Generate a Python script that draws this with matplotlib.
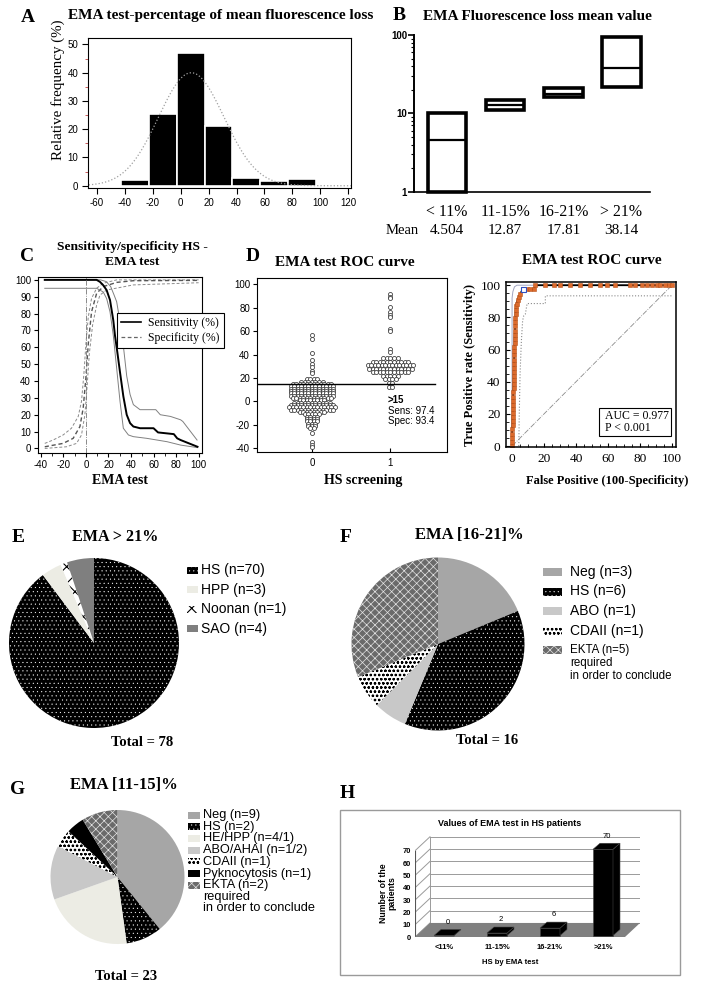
import matplotlib
matplotlib.use('Agg')
import matplotlib.pyplot as plt
import numpy as np
from matplotlib.patches import Rectangle, Polygon
from matplotlib.lines import Line2D
from matplotlib.ticker import MultipleLocator, LogLocator, NullFormatter, FixedLocator
from matplotlib import transforms

plt.rcParams['font.family'] = ['Liberation Sans', 'DejaVu Sans']
plt.rcParams['hatch.linewidth'] = 0.6
plt.rcParams['axes.unicode_minus'] = False
SERIF = 'Liberation Serif'
W, H = 704, 985

# ---------------- data ----------------
# A: histogram of EMA fluorescence loss
hist_left = [-43, -23, -3, 17, 37, 57, 77]
hist_freq = [2.0, 25.5, 47.0, 21.0, 2.8, 1.8, 2.4]
hist_width = 20
fit_mean, fit_sd, fit_peak = 7.5, 23.5, 40.0

# B: fluorescence loss ranges per group
b_groups = ['< 11%', '11-15%', '16-21%', '> 21%']
b_low = [1, 11, 16, 21.5]
b_high = [10, 15, 21, 95]
b_mean = ['4.504', '12.87', '17.81', '38.14']

# C: sensitivity / specificity curves
sens_x = [-36.5, 9.5, 12.5, 15.4, 18.4, 21.4, 24.3, 25.8, 27.9, 30.3, 33.2, 36.2, 39.2, 42.1, 48, 60, 64, 78, 81, 84, 99]
sens_y = [100, 100, 98.8, 96.8, 93.9, 88, 76, 67, 57, 45, 31, 20, 15, 13, 12, 12, 9.5, 8.5, 6, 5, 1]
sens_up_x = [-36.5, 13, 18, 22, 25, 27.3, 30.3, 33.2, 36.2, 39.2, 42.1, 48, 62, 66, 75, 84, 86, 98.6]
sens_up_y = [100, 100, 99, 96, 91, 87, 75, 61, 43, 32, 26, 23, 23, 20, 19, 17, 16, 5]
sens_lo_x = [-36.5, 9.5, 15.4, 18.4, 21.4, 24.3, 27.3, 30.3, 33.2, 37.7, 42.1, 54, 72, 84, 99]
sens_lo_y = [95, 95, 92.8, 88.9, 81, 67, 47.5, 27.7, 12, 8, 7, 6, 4, 2, 0.5]
spec_x = [-36.5, -20.2, -11.3, -5.3, -2.4, 0, 2.1, 5, 9.5, 15.4, 27.3, 42.1, 100]
spec_y = [1, 3, 6, 13, 24, 42, 62, 81, 92, 96, 98.5, 99.5, 99.7]
spec_up_x = [-36.5, -29.1, -20.2, -12.8, -6.8, -3.9, -1.8, 0, 2.1, 5, 9.5, 15.4, 27.3, 100]
spec_up_y = [3, 5, 8, 12, 19, 28, 44, 62, 78, 89, 95, 98, 100, 100]
spec_lo_x = [-36.5, -17.2, -8.3, -3.9, -0.9, 1.2, 3, 5.9, 9.5, 12.5, 18.4, 30.3, 42, 100]
spec_lo_y = [0, 1, 3, 8, 20, 38, 56, 73, 85, 91, 94, 95.5, 97, 98.3]

# D: dot plot of EMA values by HS screening (value, number of patients)
g0_vals = [57, 53, 41, 35, 32, 29, 26, 24, 19, 17, 15, 13, 11, 9, 7, 5, 3, 1,
           -1, -3, -5, -7, -9, -11, -13, -15, -17, -19, -21, -23, -27, -35, -37, -39]
g0_counts = [1, 1, 1, 1, 1, 1, 1, 1, 4, 7, 12, 13, 13, 13, 13, 13, 12, 8,
             11, 13, 14, 13, 8, 5, 4, 4, 4, 3, 3, 2, 1, 1, 1, 1]
g1_vals = [92, 89, 88, 81, 76, 74, 72, 62, 60, 45, 42, 37, 34, 31, 28, 25, 22, 19, 16, 12]
g1_counts = [1, 1, 1, 1, 1, 1, 1, 1, 1, 1, 1, 5, 11, 14, 13, 11, 5, 4, 2, 2]
cutoff = 15
sens_cut, spec_cut = 97.4, 93.4

# D: ROC curve
roc_fpr = [0, 0, 0, 0, 0, 0.3, 0.3, 0.3, 0.5, 0.5, 0.5, 0.7, 0.7, 0.7, 0.9, 0.9, 1.0, 1.0, 1.0,
           1.2, 1.2, 1.2, 1.4, 1.4, 1.4, 1.6, 1.6, 1.7, 1.8, 1.9, 2.0, 2.1, 2.2, 2.3, 2.5, 2.8,
           3.5, 4.2, 5.2, 6.6, 9.4, 11.5, 13.5, 14.6, 20.8, 26, 30, 36, 42.7, 49, 55, 59.4,
           64.6, 74, 77, 81, 84.4, 87.5, 90.6, 92.7, 95.8, 97.9, 100]
roc_tpr = [0, 2.6, 5.1, 7.7, 10.3, 12.8, 15.4, 17.9, 20.5, 23.1, 25.6, 28.2, 30.8, 33.3, 35.9,
           38.5, 41.0, 43.6, 46.2, 48.7, 51.3, 53.8, 56.4, 59.0, 61.5, 64.1, 66.7, 69.2, 71.8,
           74.4, 76.9, 79.5, 82.1, 84.6, 87.2, 88.5, 90.7, 92.7, 94.8, 97.4, 97.4, 97.4, 97.4,
           100, 100, 100, 100, 100, 100, 100, 100, 100, 100, 100, 100, 100, 100, 100, 100,
           100, 100, 100, 100]
roc_up_x = [0, 0, 0.5, 1.5, 3, 100]
roc_up_y = [0, 92, 96, 99, 100, 100]
roc_lo_x = [4.2, 4.5, 5, 5.8, 6.6, 7.3, 8.3, 9.4, 20.8, 20.8, 100]
roc_lo_y = [0, 20, 45, 65, 78, 81, 82, 88.6, 88.6, 93.4, 93.4]
auc_text = 'AUC = 0.977\nP < 0.001'

# E, F, G: diagnoses per EMA range
e_names = ['HS', 'HPP', 'Noonan', 'SAO']
e_counts = [70, 3, 1, 4]
e_labels = ['HS (n=70)', 'HPP (n=3)', 'Noonan (n=1)', 'SAO (n=4)']
f_names = ['Neg', 'HS', 'ABO', 'CDAII', 'EKTA']
f_counts = [3, 6, 1, 1, 5]
f_labels = ['Neg (n=3)', 'HS (n=6)', 'ABO (n=1)', 'CDAII (n=1)',
            'EKTA (n=5)\nrequired\nin order to conclude']
g_names = ['Neg', 'HS', 'HE/HPP', 'ABO/AHAI', 'CDAII', 'Pyknocytosis', 'EKTA']
g_counts = [9, 2, 5, 3, 1, 1, 2]
g_labels = ['Neg (n=9)', 'HS (n=2)', 'HE/HPP (n=4/1)', 'ABO/AHAI (n=1/2)', 'CDAII (n=1)',
            'Pyknocytosis (n=1)', 'EKTA (n=2)\nrequired\nin order to conclude']

# H: HS patients per EMA range
h_cats = ['<11%', '11-15%', '16-21%', '>21%']
h_counts = [0, 2, 6, 70]

STYLE = {
    'HS': dict(fc='black', hatch='....', hc='white', hlw=0.25),
    'HPP': dict(fc='#ececE4', hatch='', hc='none', hlw=0.6),
    'HE/HPP': dict(fc='#ececE4', hatch='', hc='none', hlw=0.6),
    'Noonan': dict(fc='white', hatch='xx', hc='black', hlw=0.8),
    'SAO': dict(fc='#7f7f7f', hatch='', hc='none', hlw=0.6),
    'Neg': dict(fc='#a6a6a6', hatch='', hc='none', hlw=0.6),
    'ABO': dict(fc='#c8c8c8', hatch='', hc='none', hlw=0.6),
    'ABO/AHAI': dict(fc='#c8c8c8', hatch='', hc='none', hlw=0.6),
    'CDAII': dict(fc='white', hatch='oooo', hc='black', hlw=0.6),
    'EKTA': dict(fc='#6a6a6a', hatch='xxxx', hc='#e4e4e4', hlw=0.5),
    'Pyknocytosis': dict(fc='black', hatch='', hc='none', hlw=0.6),
}

fig = plt.figure(figsize=(W / 100, H / 100), dpi=100)


def rect(l, t, r, b):
    return [l / W, 1 - b / H, (r - l) / W, (b - t) / H]


def ftext(x, y, s, **kw):
    kw.setdefault('ha', 'center')
    kw.setdefault('va', 'center')
    return fig.text(x / W, 1 - y / H, s, **kw)


def letter(x, y, s):
    ftext(x, y, s, family=SERIF, weight='bold', fontsize=14)


def style_patch(p, name):
    st = STYLE[name]
    if st['hatch']:
        p.set_edgecolor(st['hc'])
        p.set_hatch(st['hatch'])
        if hasattr(p, 'set_hatch_linewidth'):
            p.set_hatch_linewidth(st['hlw'])


# ---------------- A ----------------
ax = fig.add_axes(rect(88, 38, 351, 188))
ax.bar(hist_left, hist_freq, width=hist_width, align='edge', color='black',
       edgecolor='white', linewidth=1.2)
xs = np.linspace(-66, 122, 300)
ax.plot(xs, fit_peak * np.exp(-0.5 * ((xs - fit_mean) / fit_sd) ** 2),
        color='#a0a0a0', ls=':', lw=0.9)
ax.set_xlim(-66.5, 122)
ax.set_ylim(-0.8, 52.3)
ax.set_xticks(range(-60, 121, 20))
ax.set_yticks(range(0, 51, 10))
ax.yaxis.set_minor_locator(MultipleLocator(5))
ax.tick_params(labelsize=7, length=4, width=0.8, pad=3)
ax.tick_params(axis='y', which='minor', length=2, color='#c04040')
ax.set_ylabel('Relative frequency (%)', family=SERIF, fontsize=10.8)
ax.yaxis.set_label_coords(-0.087, 0.653)
letter(28, 17, 'A')
ftext(68, 16, 'EMA test-percentage of mean fluorescence loss', ha='left',
      family=SERIF, weight='bold', fontsize=11)

# ---------------- B ----------------
ax = fig.add_axes(rect(414, 35, 650, 191.7))
ax.set_yscale('log')
ax.set_ylim(1, 100)
ax.set_xlim(-0.567, 3.49)
for i, (lo, hi, m) in enumerate(zip(b_low, b_high, b_mean)):
    ax.add_patch(Rectangle((i - 0.33, lo), 0.66, hi - lo, fill=False, lw=2.6,
                           ec='black', clip_on=False, joinstyle='miter'))
    ax.plot([i - 0.33, i + 0.33], [float(m), float(m)], color='black', lw=1.6,
            solid_capstyle='butt')
for s in ['top', 'right']:
    ax.spines[s].set_visible(False)
ax.spines['left'].set_linewidth(1.4)
ax.spines['bottom'].set_linewidth(1.2)
ax.yaxis.set_major_locator(FixedLocator([1, 10, 100]))
ax.yaxis.set_major_formatter(matplotlib.ticker.FixedFormatter(['1', '10', '100']))
ax.yaxis.set_minor_locator(LogLocator(subs=np.arange(2, 10)))
ax.yaxis.set_minor_formatter(NullFormatter())
ax.tick_params(axis='y', labelsize=7, length=4, width=1.2, pad=1)
ax.tick_params(axis='y', which='minor', length=2, width=0.8)
for t in ax.get_yticklabels():
    t.set_fontweight('bold')
ax.set_xticks(range(len(b_groups)))
ax.set_xticklabels(b_groups, family=SERIF, fontsize=11.4)
ax.tick_params(axis='x', length=0, pad=9)
tr = transforms.blended_transform_factory(ax.transData, ax.transAxes)
ax.text(-0.77, -0.245, 'Mean', transform=tr, ha='center', va='center', family=SERIF,
        fontsize=10.5)
for i, m in enumerate(b_mean):
    ax.text(i, -0.245, m, transform=tr, ha='center', va='center', family=SERIF, fontsize=11)
letter(399, 16, 'B')
ftext(423, 16, 'EMA Fluorescence loss mean value', ha='left', family=SERIF,
      weight='bold', fontsize=11)

# ---------------- C ----------------
ax = fig.add_axes(rect(38, 277, 202, 453))
ax.plot(spec_up_x, spec_up_y, color='#8a8a8a', lw=0.7, dashes=(3, 2))
ax.plot(spec_lo_x, spec_lo_y, color='#8a8a8a', lw=0.7, dashes=(3, 2))
ax.plot(spec_x, spec_y, color='#555555', lw=1.0, dashes=(3, 2))
ax.plot(sens_up_x, sens_up_y, color='#808080', lw=0.7)
ax.plot(sens_lo_x, sens_lo_y, color='#808080', lw=0.7)
ax.plot(sens_x, sens_y, color='black', lw=1.4)
ax.axvline(0, color='#777777', lw=0.6, ls='-.')
ax.set_xlim(-42.5, 103)
ax.set_ylim(-2.7, 101.7)
ax.set_xticks(range(-40, 101, 20))
ax.set_yticks(range(0, 101, 10))
ax.xaxis.set_minor_locator(MultipleLocator(10))
ax.tick_params(labelsize=7, length=3, width=0.8, pad=2)
ax.tick_params(which='minor', length=2)
ax.set_xlabel('EMA test', family=SERIF, weight='bold', fontsize=10)
ax.xaxis.set_label_coords(0.5, -0.12)
handles = [Line2D([], [], color='black', lw=1.2),
           Line2D([], [], color='#666666', lw=0.9, dashes=(3, 2))]
leg = ax.legend(handles, ['Sensitivity (%)', 'Specificity (%)'], loc='upper left',
                bbox_to_anchor=(0.482, 0.795), prop=dict(family=SERIF, size=8.5),
                fancybox=False, framealpha=1, edgecolor='black', borderpad=0.35,
                handlelength=1.7, handletextpad=0.6, labelspacing=0.25, borderaxespad=0)
leg.get_frame().set_linewidth(0.8)
letter(27, 256, 'C')
ftext(132, 247, 'Sensitivity/specificity HS -', family=SERIF, weight='bold', fontsize=9.7)
ftext(132, 262, 'EMA test', family=SERIF, weight='bold', fontsize=9.7)

# ---------------- D left: dot plot ----------------
ax = fig.add_axes(rect(257, 278, 447, 452))
step = 0.045
for grp, (vals, cnts) in enumerate([(g0_vals, g0_counts), (g1_vals, g1_counts)]):
    px, py = [], []
    for v, n in zip(vals, cnts):
        for k in range(n):
            px.append(grp + (k - (n - 1) / 2) * step)
            py.append(v)
    ax.plot(px, py, ls='none', marker='o', ms=2.9, mfc='white', mec='#333333', mew=0.55)
ax.axhline(cutoff, xmin=0, xmax=0.937, color='black', lw=1.0)
ax.set_xlim(-0.70, 1.72)
ax.set_ylim(-43.2, 105.4)
ax.set_xticks([0, 1])
ax.set_yticks(range(-40, 101, 20))
ax.tick_params(labelsize=7, length=3, width=0.8, pad=2)
ax.tick_params(axis='x', direction='in', pad=4)
ax.set_xlabel('HS screening', family=SERIF, weight='bold', fontsize=10)
ax.xaxis.set_label_coords(0.56, -0.125)
ftext(388, 400, '>%d' % cutoff, ha='left', fontsize=7, weight='bold')
ftext(388, 410.5, 'Sens: %.1f' % sens_cut, ha='left', fontsize=7)
ftext(388, 420.5, 'Spec: %.1f' % spec_cut, ha='left', fontsize=7)
letter(253, 256, 'D')
ftext(345, 262, 'EMA test ROC curve', family=SERIF, weight='bold', fontsize=11)

# ---------------- D right: ROC ----------------
ax = fig.add_axes(rect(506, 282, 676, 447))
ax.plot([0, 100], [0, 100], color='#8a8a8a', lw=0.6, ls='-.')
ax.plot(roc_lo_x, roc_lo_y, color='#8a8a8a', lw=0.8, ls=':')
ax.plot(roc_up_x, roc_up_y, color='#a0a4c0', lw=0.7)
ax.plot(roc_fpr, roc_tpr, color='black', lw=1.3, marker='s', ms=3.4,
        mfc='#dd6a2c', mec='#b8531c', mew=0.4)
ax.plot([100 - spec_cut], [sens_cut], ls='none', marker='s', ms=3.6, mfc='white',
        mec='#3050c0', mew=0.8)
ax.set_xlim(-3.8, 102.5)
ax.set_ylim(-0.6, 102)
ax.set_xticks(range(0, 101, 20))
ax.set_yticks(range(0, 101, 20))
ax.xaxis.set_minor_locator(MultipleLocator(5))
ax.yaxis.set_minor_locator(MultipleLocator(5))
ax.tick_params(direction='in', length=3, width=0.8, labelsize=9.6, pad=4)
ax.tick_params(which='minor', direction='in', length=2)
for t in ax.get_xticklabels() + ax.get_yticklabels():
    t.set_fontfamily(SERIF)
for s in ax.spines.values():
    s.set_linewidth(1.1)
ax.set_ylabel('True Positive rate (Sensitivity)', family=SERIF, weight='bold', fontsize=9)
ax.yaxis.set_label_coords(-0.176, 0.5)
ax.set_xlabel('False Positive (100-Specificity)', family=SERIF, weight='bold', fontsize=9)
ax.xaxis.set_label_coords(0.594, -0.17)
ax.add_patch(Rectangle((0.547, 0.067), 0.423, 0.169, transform=ax.transAxes,
                       fill=False, ec='black', lw=0.8))
ax.text(0.582, 0.152, auc_text, transform=ax.transAxes, ha='left', va='center',
        family=SERIF, fontsize=8.5, linespacing=1.0)
ftext(592, 261, 'EMA test ROC curve', family=SERIF, weight='bold', fontsize=11)


# ---------------- E, F, G: pies ----------------
def draw_pie(box, names, counts):
    pax = fig.add_axes(rect(*box))
    wedges, _ = pax.pie(counts, startangle=90, counterclock=False,
                        colors=[STYLE[n]['fc'] for n in names],
                        wedgeprops=dict(linewidth=0))
    for w, n in zip(wedges, names):
        style_patch(w, n)
    pax.set_xlim(-1, 1)
    pax.set_ylim(-1, 1)
    pax.set_aspect('equal')
    pax.axis('off')


def draw_key(x, y, dy, names, labels, fs, bw, bh, tx, fs2=None, dy2=None):
    for k, (n, lab) in enumerate(zip(names, labels)):
        yy = y + k * dy
        p = Rectangle((x / W, 1 - (yy + bh / 2) / H), bw / W, bh / H,
                      transform=fig.transFigure, facecolor=STYLE[n]['fc'],
                      edgecolor='none', linewidth=0)
        style_patch(p, n)
        fig.add_artist(p)
        lines = lab.split('\n')
        if len(lines) == 1:
            ftext(tx, yy, lab, ha='left', fontsize=fs)
        else:
            for j, ln in enumerate(lines):
                ftext(tx, yy + j * dy2, ln, ha='left', fontsize=fs2)


draw_pie((9, 558, 179, 728), e_names, e_counts)
draw_key(187, 570, 19.6, e_names, e_labels, 10, 11, 7, 201)
letter(18, 538, 'E')
ftext(115, 537, 'EMA > 21%', family=SERIF, weight='bold', fontsize=11.6)
ftext(142, 742, 'Total = 78', family=SERIF, weight='bold', fontsize=10.5)

draw_pie((351.5, 557.5, 524.5, 730.5), f_names, f_counts)
draw_key(543, 572, 19.5, f_names, f_labels, 10, 19, 8, 570, fs2=8.3, dy2=13)
letter(346, 538, 'F')
ftext(469, 535, 'EMA [16-21]%', family=SERIF, weight='bold', fontsize=12)
ftext(487, 741, 'Total = 16', family=SERIF, weight='bold', fontsize=10.5)

draw_pie((50.5, 810, 184.5, 944), g_names, g_counts)
draw_key(188, 815, 11.7, g_names, g_labels, 9.2, 12, 7, 203, fs2=9.2, dy2=11.4)
letter(18, 789, 'G')
ftext(124, 785, 'EMA [11-15]%', family=SERIF, weight='bold', fontsize=12)
ftext(126, 976, 'Total = 23', family=SERIF, weight='bold', fontsize=10.5)

# ---------------- H: pseudo-3D bars ----------------
fig.add_artist(Rectangle((340 / W, 1 - 975 / H), 340 / W, 165 / H, transform=fig.transFigure,
                         fill=False, ec='#9a9a9a', lw=1))
letter(347, 793, 'H')
ax = fig.add_axes(rect(415, 836, 640, 937))
ax.set_xlim(-0.547, 3.698)
ax.set_ylim(0, 82)
x0, x1 = -0.547, 3.415
ddx, ddy, top = 0.283, 11.4, 70
for v in range(0, top + 1, 10):
    ax.plot([x0 + ddx, x1 + ddx], [v + ddy, v + ddy], color='#9a9a9a', lw=0.7)
    ax.plot([x0, x0 + ddx], [v, v + ddy], color='#9a9a9a', lw=0.7)
ax.plot([x0, x0], [0, top], color='#555555', lw=0.8)
ax.plot([x0 + ddx, x0 + ddx], [ddy, top + ddy], color='#9a9a9a', lw=0.7)
ax.add_patch(Polygon([(x0, 0), (x1, 0), (x1 + ddx, ddy), (x0 + ddx, ddy)], closed=True,
                     fc='#808080', ec='none', zorder=3))
bw, bdx, bdy, base = 0.377, 0.132, 4.9, 1.2
for i, v in enumerate(h_counts):
    l, r = i - bw / 2, i + bw / 2
    kw = dict(closed=True, fc='black', ec='#444444', lw=0.4, zorder=4)
    ax.add_patch(Polygon([(l, base), (r, base), (r, base + v), (l, base + v)], **kw))
    ax.add_patch(Polygon([(r, base), (r + bdx, base + bdy), (r + bdx, base + v + bdy),
                          (r, base + v)], **kw))
    ax.add_patch(Polygon([(l, base + v), (r, base + v), (r + bdx, base + v + bdy),
                          (l + bdx, base + v + bdy)], **kw))
    ax.text(i + bdx / 2, base + v + bdy + 3, str(v), ha='center', va='bottom', fontsize=5.5,
            zorder=5)
for s in ax.spines.values():
    s.set_visible(False)
ax.set_yticks(range(0, top + 1, 10))
ax.set_xticks(range(len(h_cats)))
ax.set_xticklabels(h_cats)
ax.tick_params(length=0, labelsize=5.4, pad=3)
ax.tick_params(axis='x', pad=5)
for t in ax.get_xticklabels() + ax.get_yticklabels():
    t.set_fontweight('bold')
ftext(510, 823, 'Values of EMA test in HS patients', weight='bold', fontsize=6.5)
ftext(510, 962, 'HS by EMA test', weight='bold', fontsize=5.5)
ftext(388, 893, 'Number of the\npatients', weight='bold', fontsize=6.3, rotation=90,
      linespacing=0.95)

fig.savefig('out.png', dpi=100)
